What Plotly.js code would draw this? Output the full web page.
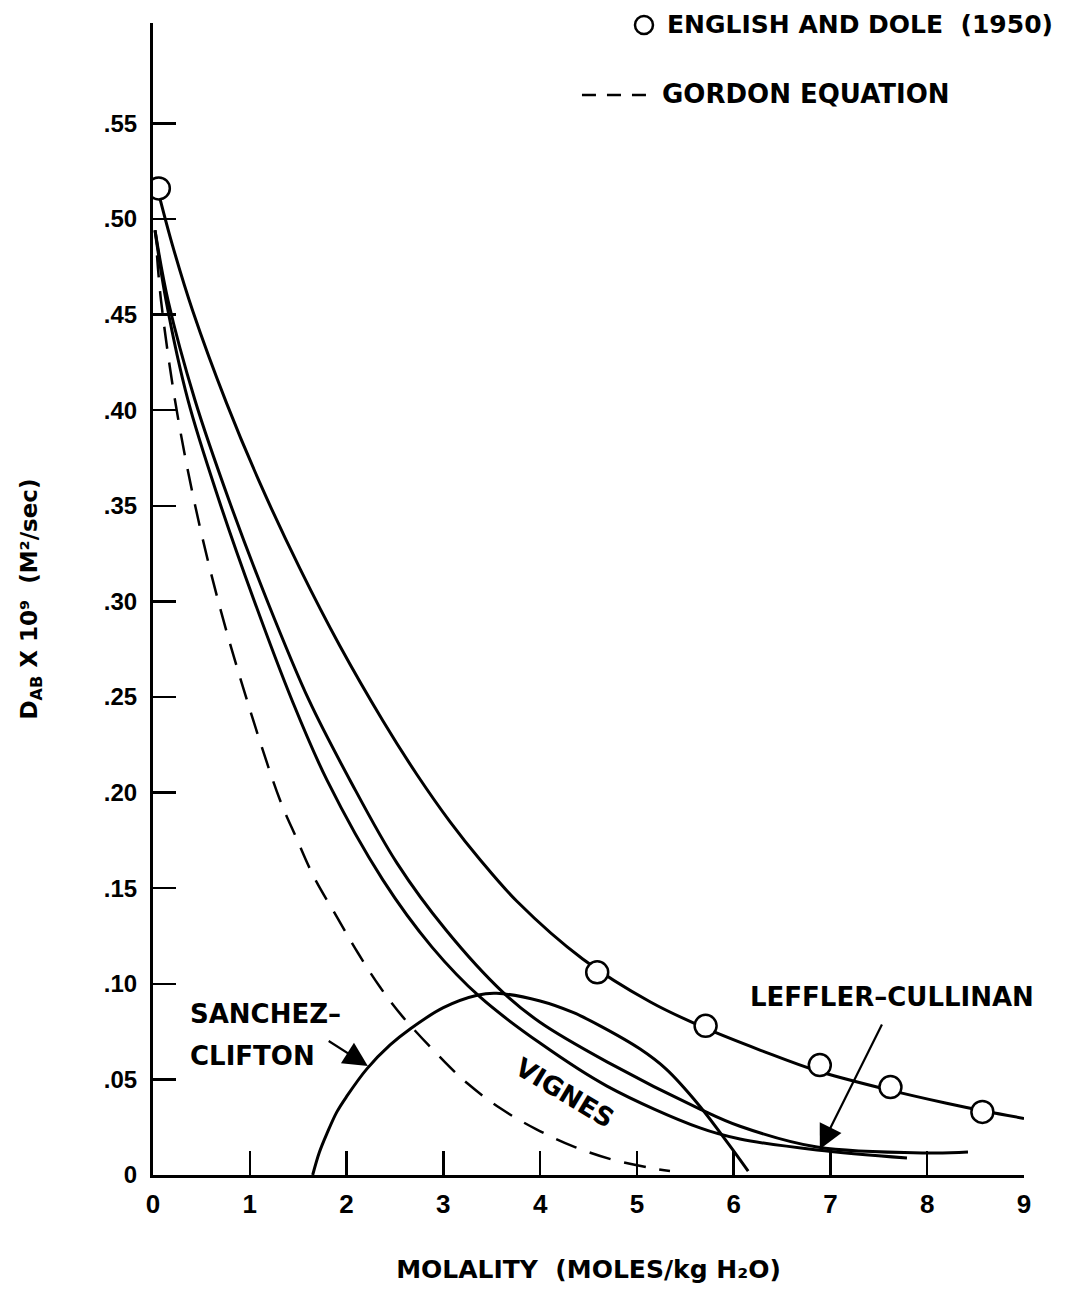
<!DOCTYPE html>
<html>
<head>
<meta charset="utf-8">
<script src="https://cdn.plot.ly/plotly-3.0.1.min.js"></script>
<style>html,body{margin:0;padding:0;background:#fff;}#chart{width:1065px;height:1289px;}</style>
</head>
<body>
<div id="chart"></div>
<script>
// English and Dole (1950) measured points
const englishX = [0.06, 4.59, 5.71, 6.89, 7.62, 8.57];
const englishY = [0.516, 0.106, 0.078, 0.0575, 0.046, 0.033];

// Curve drawn through the English and Dole data
const fitX = [0.05, 0.2, 0.41, 0.76, 1.11, 1.52, 1.93, 2.38, 2.73, 3.07, 3.38, 3.76, 4.44, 5.14, 5.72, 6.3, 6.86, 7.6, 8.2, 8.6, 9.0];
const fitY = [0.515, 0.4865, 0.452, 0.4037, 0.3613, 0.317, 0.2768, 0.2372, 0.2092, 0.1847, 0.1649, 0.1432, 0.1130, 0.0905, 0.0765, 0.0648, 0.0545, 0.0445, 0.0375, 0.0333, 0.0296];

// Vignes (inner solid curve)
const vignesX = [0.0207, 0.1343, 0.3616, 0.682, 1.0436, 1.4363, 1.7979, 2.3765, 2.8828, 3.3788, 3.9988, 4.691, 5.652, 6.0653, 6.8609, 7.7908];
const vignesY = [0.4941, 0.4575, 0.4052, 0.3529, 0.3006, 0.2483, 0.2065, 0.1542, 0.1192, 0.0931, 0.0690, 0.0465, 0.0246, 0.0188, 0.0131, 0.0089];

// Leffler-Cullinan (outer solid curve)
const lefflerX = [0.0207, 0.155, 0.434, 0.7853, 1.1779, 1.6119, 2.0355, 2.5212, 3.0275, 3.6165, 3.9988, 4.691, 5.652, 6.0653, 6.8609, 8.0285, 8.4212];
const lefflerY = [0.4941, 0.4575, 0.4052, 0.3529, 0.3006, 0.2483, 0.2065, 0.1631, 0.1281, 0.0955, 0.0799, 0.0592, 0.0345, 0.0255, 0.0146, 0.0115, 0.0120];

// Gordon equation (dashed)
const gordonX = [0.0413, 0.0827, 0.2273, 0.4236, 0.6716, 0.9713, 1.3123, 1.4776, 1.6636, 1.9012, 2.1182, 2.3455, 2.5832, 2.9965, 3.2445, 3.5854, 3.9574, 4.3604, 4.7634, 5.2077, 5.342];
const gordonY = [0.481, 0.4575, 0.4052, 0.3529, 0.3006, 0.2483, 0.1961, 0.1767, 0.1558, 0.1349, 0.1161, 0.0983, 0.0826, 0.0601, 0.0481, 0.0350, 0.0240, 0.0146, 0.0078, 0.0031, 0.0021];

// Sanchez-Clifton (arch)
const sanchezX = [1.65, 1.72, 1.8, 1.9, 2.0, 2.21, 2.45, 2.66, 3.0, 3.35, 3.55, 4.0, 4.34, 4.62, 5.03, 5.3, 5.65, 5.95, 6.15];
const sanchezY = [0.0, 0.012, 0.022, 0.033, 0.041, 0.0555, 0.068, 0.0765, 0.0875, 0.094, 0.095, 0.091, 0.085, 0.078, 0.066, 0.0555, 0.036, 0.016, 0.002];

// Tick labels
const xTickVals = [0, 1, 2, 3, 4, 5, 6, 7, 8, 9];
const xTickText = ['0', '1', '2', '3', '4', '5', '6', '7', '8', '9'];
const yTickVals = [0, 0.05, 0.10, 0.15, 0.20, 0.25, 0.30, 0.35, 0.40, 0.45, 0.50, 0.55];
const yTickText = ['0', '.05', '.10', '.15', '.20', '.25', '.30', '.35', '.40', '.45', '.50', '.55'];

const TICKFAM = 'Liberation Sans, Arial, Helvetica, sans-serif';
const FAM = 'DejaVu Sans, Verdana, sans-serif';
const solid = {color: '#000', width: 3, shape: 'spline', smoothing: 1};

const traces = [
  {x: fitX, y: fitY, mode: 'lines', line: solid, hoverinfo: 'skip'},
  {x: vignesX, y: vignesY, mode: 'lines', line: solid, hoverinfo: 'skip'},
  {x: lefflerX, y: lefflerY, mode: 'lines', line: solid, hoverinfo: 'skip'},
  {x: gordonX, y: gordonY, mode: 'lines', line: {color: '#000', width: 2.5, dash: '22px,14px', shape: 'spline', smoothing: 1}, hoverinfo: 'skip'},
  {x: sanchezX, y: sanchezY, mode: 'lines', line: solid, hoverinfo: 'skip'},
  {x: englishX, y: englishY, mode: 'markers', marker: {symbol: 'circle', size: 22, color: '#fff', line: {color: '#000', width: 2.5}}, hoverinfo: 'skip'}
];

const txtFont = (size) => ({family: FAM, size: size, color: '#000', weight: 'bold'});

const layout = {
  width: 1065, height: 1289,
  margin: {l: 153, r: 41, t: 23, b: 114},
  paper_bgcolor: '#fff', plot_bgcolor: '#fff',
  showlegend: false,
  xaxis: {
    range: [0, 9], showgrid: false, zeroline: false,
    showline: true, linecolor: '#000', linewidth: 3,
    ticks: 'inside', ticklen: 24, tickwidth: 2.5, tickcolor: '#000',
    tickvals: xTickVals, ticktext: xTickText,
    tickfont: {family: TICKFAM, size: 26, color: '#000', weight: 'bold'},
    ticklabelstandoff: 4,
    title: {text: 'MOLALITY  (MOLES/kg H₂O)', font: txtFont(25), standoff: 43}
  },
  yaxis: {
    range: [0, 0.6025], showgrid: false, zeroline: false,
    showline: true, linecolor: '#000', linewidth: 3,
    ticks: 'inside', ticklen: 23, tickwidth: 2.5, tickcolor: '#000',
    tickvals: yTickVals, ticktext: yTickText,
    tickfont: {family: TICKFAM, size: 24, color: '#000', weight: 'bold'},
    ticklabelstandoff: 8,
    title: {text: 'D<sub>AB</sub> X 10⁹  (M²/sec)', font: txtFont(23), standoff: 60}
  },
  shapes: [
    {type: 'circle', xref: 'paper', yref: 'paper', xsizemode: 'pixel', ysizemode: 'pixel',
     xanchor: 0.5637, yanchor: 0.9983, x0: -9, x1: 9, y0: -9, y1: 9,
     line: {color: '#000', width: 2.5}, fillcolor: 'rgba(0,0,0,0)'},
    {type: 'line', xref: 'paper', yref: 'paper', x0: 0.4925, x1: 0.5672, y0: 0.9375, y1: 0.9375,
     line: {color: '#000', width: 2.5, dash: '14px,11px'}}
  ],
  annotations: [
    {xref: 'paper', yref: 'paper', x: 0.5878, y: 0.9983, xanchor: 'left', yanchor: 'middle',
     text: 'ENGLISH AND DOLE  (1950)', showarrow: false, font: txtFont(25)},
    {xref: 'paper', yref: 'paper', x: 0.5821, y: 0.9384, xanchor: 'left', yanchor: 'middle',
     text: 'GORDON EQUATION', showarrow: false, font: txtFont(26)},
    {xref: 'x', yref: 'y', x: 0.362, y: 0.0844, xanchor: 'left', yanchor: 'middle',
     text: 'SANCHEZ–', showarrow: false, font: txtFont(26)},
    {xref: 'x', yref: 'y', x: 0.362, y: 0.0622, xanchor: 'left', yanchor: 'middle',
     text: 'CLIFTON', showarrow: false, font: txtFont(26)},
    {xref: 'x', yref: 'y', x: 4.257, y: 0.0429, xanchor: 'center', yanchor: 'middle',
     text: 'VIGNES', textangle: 31, showarrow: false, font: txtFont(26)},
    {xref: 'x', yref: 'y', x: 7.636, y: 0.093, xanchor: 'center', yanchor: 'middle',
     text: 'LEFFLER–CULLINAN', showarrow: false, font: txtFont(26)},
    {xref: 'x', yref: 'y', x: 2.22, y: 0.057, axref: 'x', ayref: 'y', ax: 1.80, ay: 0.0706,
     text: '', showarrow: true, arrowhead: 2, arrowsize: 2.2, arrowwidth: 2.2, arrowcolor: '#000', standoff: 0},
    {xref: 'x', yref: 'y', x: 6.89, y: 0.0135, axref: 'x', ayref: 'y', ax: 7.54, ay: 0.0795,
     text: '', showarrow: true, arrowhead: 2, arrowsize: 2.2, arrowwidth: 2.2, arrowcolor: '#000', standoff: 0}
  ]
};

Plotly.newPlot('chart', traces, layout, {displayModeBar: false, staticPlot: true});
</script>
</body>
</html>
